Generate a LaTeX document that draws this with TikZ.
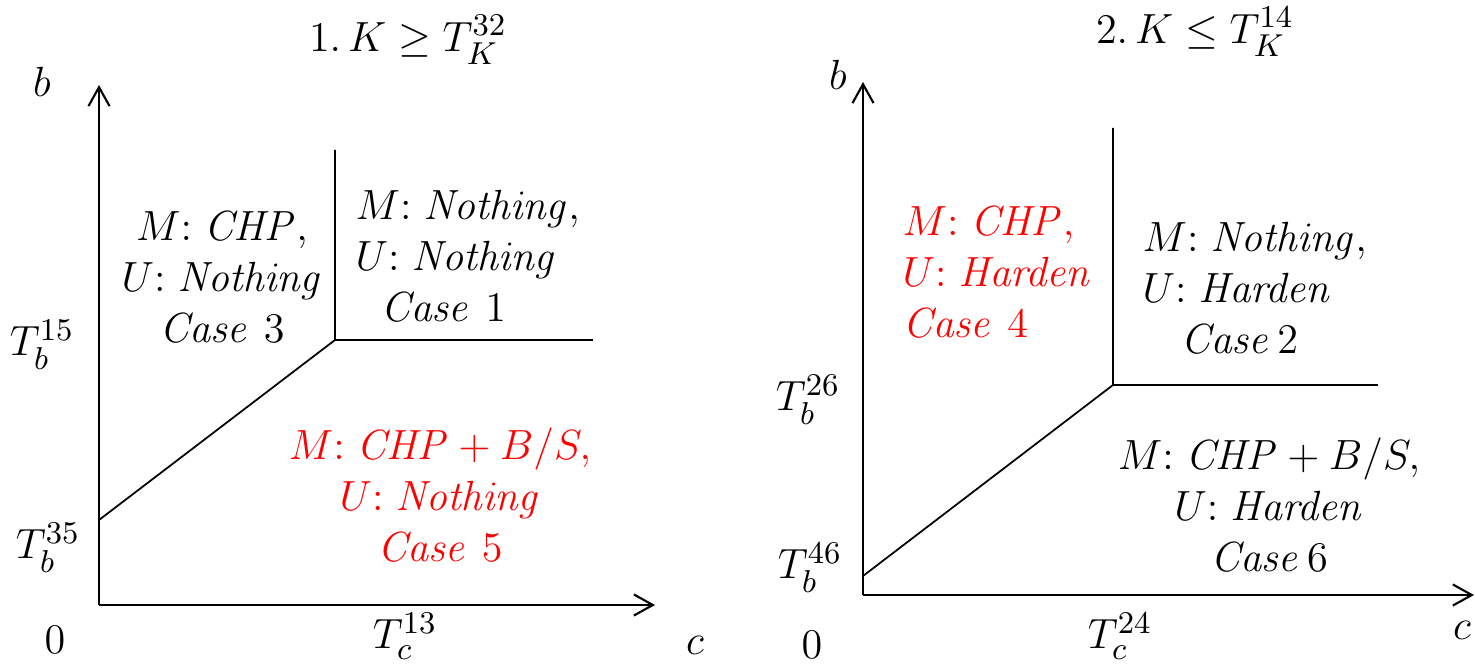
\documentclass[tikz,border=0pt]{standalone}
\usepackage{amsmath, amssymb}
\usepackage{tikz}
\usetikzlibrary{positioning, arrows.meta}
\usepackage{xcolor}

\newcommand{\lab}[2]{#1{:}\;\mathit{#2}}

\begin{document}
\begin{tikzpicture}[x=0.01cm, y=-0.01cm,
    axis/.style={line width=0.6pt, -{Straight Barb[length=5.4pt, width=6pt]}},
    border/.style={line width=0.5pt},
    lbl/.style={font=\fontsize{13}{14.5}\selectfont, inner sep=0pt},
    case/.style={lbl, align=center},
    caseleft/.style={lbl, align=left, anchor=west}]
    \useasboundingbox (0,0) rectangle (1475,667);

    % left diagram
    \coordinate (O1) at (99,605);
    \coordinate (B1) at (99,85);
    \coordinate (C1) at (655,605);
    \coordinate (P1) at (99,520);
    \coordinate (Q1) at (335,340);
    \coordinate (U1) at (335,150);
    \coordinate (R1) at (593,340);

    \draw[axis] (O1) -- (B1);
    \draw[axis] (O1) -- (C1);
    \draw[border] (P1) -- (Q1) -- (U1);
    \draw[border] (Q1) -- (R1);

    \node[lbl] (title1) at (408,40) {$1.\,K \geq T_K^{32}$};
    \node[lbl] (b1) at (42,82) {$b$};
    \node[lbl] (c1) at (695,645) {$c$};
    \node[lbl] (zero1) at (55,640) {$0$};
    \node[lbl] (tb15) at (42,345) {$T_b^{15}$};
    \node[lbl] (tb35) at (48,548) {$T_b^{35}$};
    \node[lbl] (tc13) at (405,636) {$T_c^{13}$};

    \node[case] (case3) at (222,277) {$\lab{M}{CHP},$\\ $\lab{U}{Nothing}$\\ $\mathit{Case}\ 3$};
    \node[caseleft] (case1) at (355,256) {$\lab{M}{Nothing},$\\ $\lab{U}{Nothing}$\\ \hspace{0.25cm}$\mathit{Case}\ 1$};
    \node[case, red] (case5) at (440,495) {$\lab{M}{CHP} + B/S,$\\ $\lab{U}{Nothing}$\\ $\mathit{Case}\ 5$};

    % right diagram
    \coordinate (O2) at (863,595);
    \coordinate (B2) at (863,82);
    \coordinate (C2) at (1474,595);
    \coordinate (P2) at (863,576);
    \coordinate (Q2) at (1113,385);
    \coordinate (U2) at (1113,128);
    \coordinate (R2) at (1378,385);

    \draw[axis] (O2) -- (B2);
    \draw[axis] (O2) -- (C2);
    \draw[border] (P2) -- (Q2) -- (U2);
    \draw[border] (Q2) -- (R2);

    \node[lbl] (title2) at (1195,32) {$2.\,K \leq T_K^{14}$};
    \node[lbl] (b2) at (838,75) {$b$};
    \node[lbl] (c2) at (1462,630) {$c$};
    \node[lbl] (zero2) at (812,645) {$0$};
    \node[lbl] (tb26) at (808,400) {$T_b^{26}$};
    \node[lbl] (tb46) at (810,568) {$T_b^{46}$};
    \node[lbl] (tc24) at (1120,636) {$T_c^{24}$};

    \node[caseleft, red] (case4) at (902,272) {$\lab{M}{CHP},$\\ $\lab{U}{Harden}$\\ $\mathit{Case}\ 4$};
    \node[caseleft] (case2) at (1142,288) {$\lab{M}{Nothing},$\\ $\lab{U}{Harden}$\\ \hspace{0.38cm}$\mathit{Case}\,2$};
    \node[case] (case6) at (1269,505) {$\lab{M}{CHP} + B/S,$\\ $\lab{U}{Harden}$\\ $\mathit{Case}\,6$};
\end{tikzpicture}
\end{document}
